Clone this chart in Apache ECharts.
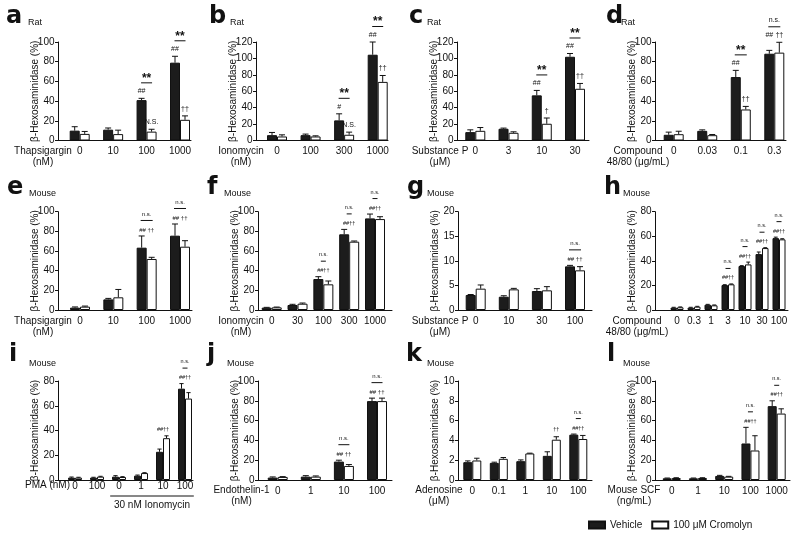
<!DOCTYPE html>
<html><head><meta charset="utf-8">
<script src="https://cdn.jsdelivr.net/npm/echarts@6/dist/echarts.min.js"></script>
<style>html,body{margin:0;padding:0;background:#fff}#c{width:800px;height:538px}</style>
</head><body><div id="c"></div>
<script>
// ---------------- DATA ----------------
const aCats = ['0','10','100','1000'];
const aVeh = [10, 11, 41, 79];
const aVehErr = [4, 1.7, 1.8, 6.5];
const aCro = [6.7, 6.5, 9, 21];
const aCroErr = [2.5, 4, 2.4, 4];
const aTicks = [0,20,40,60,80,100];
const aNotes = [null, null, {veh:'##', cro:'N.S.', cmp:'**'}, {veh:'##', cro:'††', cmp:'**'}];

const bCats = ['0','100','300','1000'];
const bVeh = [6.5, 6.5, 24.5, 104.5];
const bVehErr = [3.3, 1.3, 8, 15.5];
const bCro = [4.9, 4.9, 7, 71.4];
const bCroErr = [2, 0.8, 3.2, 7.8];
const bTicks = [0,20,40,60,80,100,120];
const bNotes = [null, null, {veh:'#', cro:'N.S.', cmp:'**'}, {veh:'##', cro:'††', cmp:'**'}];

const cCats = ['0','3','10','30'];
const cVeh = [10.2, 14.3, 55, 102];
const cVehErr = [2.8, 0.8, 6, 4];
const cCro = [11.8, 9.4, 20.4, 63];
const cCroErr = [4, 1.2, 7, 6.5];
const cTicks = [0,20,40,60,80,100,120];
const cNotes = [null, null, {veh:'##', cro:'†', cmp:'**'}, {veh:'##', cro:'††', cmp:'**'}];

const dCats = ['0','0.03','0.1','0.3'];
const dVeh = [5.8, 9.8, 64.4, 88.1];
const dVehErr = [2.7, 1, 6.8, 3.4];
const dCro = [6.4, 5.4, 31.5, 89.2];
const dCroErr = [3, 0.7, 3.1, 10.5];
const dTicks = [0,20,40,60,80,100];
const dNotes = [null, null, {veh:'##', cro:'††', cmp:'**'}, {veh:'##', cro:'††', same:true, cmp:'n.s.'}];

const eCats = ['0','10','100','1000'];
const eVeh = [2.4, 10.8, 63.4, 75.6];
const eVehErr = [0.7, 1, 11.9, 11.9];
const eCro = [3.4, 12.9, 51.9, 64.4];
const eCroErr = [0.6, 8, 1.7, 6.1];
const eTicks = [0,20,40,60,80,100];
const eNotes = [null, null, {both:'## ††', cmp:'n.s.'}, {both:'## ††', cmp:'n.s.'}];

const fCats = ['0','30','100','300','1000'];
const fVeh = [2.4, 5.1, 31.5, 77, 93.2];
const fVehErr = [0.3, 0.7, 2.4, 5, 4.4];
const fCro = [2.7, 6.4, 26.1, 69.5, 92.5];
const fCroErr = [0.3, 0.7, 3.4, 0.7, 2.4];
const fTicks = [0,20,40,60,80,100];
const fNotes = [null, null, {both:'##††', cmp:'n.s.'}, {both:'##††', cmp:'n.s.'}, {both:'##††', cmp:'n.s.'}];

const gCats = ['0','10','30','100'];
const gVeh = [3.05, 2.7, 3.86, 8.88];
const gVehErr = [0.1, 0.2, 0.48, 0.2];
const gCro = [4.34, 4.2, 4.0, 8.07];
const gCroErr = [0.75, 0.2, 0.75, 0.75];
const gTicks = [0,5,10,15,20];
const gNotes = [null, null, null, {both:'## ††', cmp:'n.s.'}];

const hCats = ['0','0.3','1','3','10','30','100'];
const hVeh = [1.9, 1.9, 4.3, 20.3, 35.8, 45.5, 58.5];
const hVehErr = [0.3, 0.3, 0.3, 0.3, 0.3, 1.7, 0.8];
const hCro = [2.2, 2.7, 3.8, 20.9, 37.1, 50.4, 57.5];
const hCroErr = [0.3, 0.3, 0.3, 0.3, 1.9, 0.3, 0.5];
const hTicks = [0,20,40,60,80];
const hNotes = [null, null, null, {both:'##††', cmp:'n.s.'}, {both:'##††', cmp:'n.s.'}, {both:'##††', cmp:'n.s.'}, {both:'##††', cmp:'n.s.'}];

const iCats = ['0','100','0','1','10','100'];
const iVeh = [1.9, 1.9, 2.7, 3.5, 22.8, 73.8];
const iVehErr = [0.5, 0.3, 0.8, 0.5, 2.2, 4.1];
const iCro = [1.9, 2.7, 2.4, 5.6, 33.8, 65.8];
const iCroErr = [0.3, 0.3, 0.3, 0.3, 1.9, 4.8];
const iTicks = [0,20,40,60,80];
const iNotes = [null, null, null, null, {both:'##††'}, {both:'##††', cmp:'n.s.'}];
const iGroupLabel = '30 nM Ionomycin';

const jCats = ['0','1','10','100'];
const jVeh = [2.4, 3.4, 18.6, 79.7];
const jVehErr = [0.7, 1, 1.4, 3];
const jCro = [3.1, 3.4, 14.2, 79.7];
const jCroErr = [0.3, 0.7, 1.4, 3];
const jTicks = [0,20,40,60,80,100];
const jNotes = [null, null, {both:'## ††', cmp:'n.s.'}, {both:'## ††', cmp:'n.s.'}];

const kCats = ['0','0.1','1','10','100'];
const kVeh = [1.8, 1.73, 1.9, 2.44, 4.58];
const kVehErr = [0.13, 0.07, 0.13, 0.41, 0.06];
const kCro = [1.97, 2.14, 2.68, 4.07, 4.14];
const kCroErr = [0.23, 0.13, 0.03, 0.3, 0.36];
const kTicks = [0,2,4,6,8,10];
const kNotes = [null, null, null, {cro:'††'}, {both:'##††', cmp:'n.s.'}];

const lCats = ['0','1','10','100','1000'];
const lVeh = [1.7, 1.7, 4.1, 36.9, 74.6];
const lVehErr = [0.3, 0.3, 0.6, 16.3, 5.4];
const lCro = [2, 2, 3.4, 29.8, 67.1];
const lCroErr = [0.3, 0.3, 0.3, 14.9, 4.8];
const lTicks = [0,20,40,60,80,100];
const lNotes = [null, null, null, {both:'##††', cmp:'n.s.'}, {both:'##††', cmp:'n.s.'}];

const yTitle = 'β-Hexosaminidase (%)';
const seriesNames = ['Vehicle', '100 μM Cromolyn'];

const panels = [
  {id:'a', sp:'Rat', xName:'Thapsigargin\n(nM)', cats:aCats, veh:aVeh, vehErr:aVehErr, cro:aCro, croErr:aCroErr, ticks:aTicks, notes:aNotes},
  {id:'b', sp:'Rat', xName:'Ionomycin\n(nM)', cats:bCats, veh:bVeh, vehErr:bVehErr, cro:bCro, croErr:bCroErr, ticks:bTicks, notes:bNotes},
  {id:'c', sp:'Rat', xName:'Substance P\n(μM)', cats:cCats, veh:cVeh, vehErr:cVehErr, cro:cCro, croErr:cCroErr, ticks:cTicks, notes:cNotes},
  {id:'d', sp:'Rat', xName:'Compound\n48/80 (μg/mL)', cats:dCats, veh:dVeh, vehErr:dVehErr, cro:dCro, croErr:dCroErr, ticks:dTicks, notes:dNotes},
  {id:'e', sp:'Mouse', xName:'Thapsigargin\n(nM)', cats:eCats, veh:eVeh, vehErr:eVehErr, cro:eCro, croErr:eCroErr, ticks:eTicks, notes:eNotes},
  {id:'f', sp:'Mouse', xName:'Ionomycin\n(nM)', cats:fCats, veh:fVeh, vehErr:fVehErr, cro:fCro, croErr:fCroErr, ticks:fTicks, notes:fNotes},
  {id:'g', sp:'Mouse', xName:'Substance P\n(μM)', cats:gCats, veh:gVeh, vehErr:gVehErr, cro:gCro, croErr:gCroErr, ticks:gTicks, notes:gNotes},
  {id:'h', sp:'Mouse', xName:'Compound\n48/80 (μg/mL)', cats:hCats, veh:hVeh, vehErr:hVehErr, cro:hCro, croErr:hCroErr, ticks:hTicks, notes:hNotes},
  {id:'i', sp:'Mouse', xName:'PMA (nM)', cats:iCats, veh:iVeh, vehErr:iVehErr, cro:iCro, croErr:iCroErr, ticks:iTicks, notes:iNotes},
  {id:'j', sp:'Mouse', xName:'Endothelin-1\n(nM)', cats:jCats, veh:jVeh, vehErr:jVehErr, cro:jCro, croErr:jCroErr, ticks:jTicks, notes:jNotes},
  {id:'k', sp:'Mouse', xName:'Adenosine\n(μM)', cats:kCats, veh:kVeh, vehErr:kVehErr, cro:kCro, croErr:kCroErr, ticks:kTicks, notes:kNotes},
  {id:'l', sp:'Mouse', xName:'Mouse SCF\n(ng/mL)', cats:lCats, veh:lVeh, vehErr:lVehErr, cro:lCro, croErr:lCroErr, ticks:lTicks, notes:lNotes}
];

// ---------------- LAYOUT ----------------
const rows = [
  {top:42, zero:140.5, letterY:17, spY:22.7, nameTop:146.2},
  {top:211.7, zero:310, letterY:187.5, spY:193.3, nameTop:316.2},
  {top:381, zero:480, letterY:354.5, spY:364, nameTop:485.2}
];
const layout = {
  a:{row:0, axisX:58, axisEnd:191, c0:79.7, c1:180, bw:10, lw:11, ns:7, nameX:43, letterX:6, spX:28},
  b:{row:0, axisX:256, axisEnd:388, c0:277, c1:377.7, bw:10, lw:11, ns:7, nameX:241, letterX:209, spX:230},
  c:{row:0, axisX:457, axisEnd:589, c0:475.3, c1:575, bw:10, lw:11, ns:7, nameX:440, letterX:409, spX:427},
  d:{row:0, axisX:655, axisEnd:786, c0:673.7, c1:774.3, bw:10, lw:12, ns:7, nameX:638, letterX:606, spX:621},
  e:{row:1, axisX:58, axisEnd:192, c0:80, c1:180, bw:10, lw:12, ns:6, nameX:43, letterX:7, spX:29},
  f:{row:1, axisX:258, axisEnd:392, c0:271.7, c1:375, bw:10, lw:5, ns:5.5, nameX:241, letterX:207, spX:224},
  g:{row:1, axisX:458, axisEnd:592, c0:475.7, c1:575, bw:10, lw:12, ns:6, nameX:440, letterX:407, spX:427},
  h:{row:1, axisX:655, axisEnd:788, c0:677, c1:779, bw:6.5, lw:5, ns:5.5, nameX:637, letterX:604, spX:623},
  i:{row:2, axisX:58, axisEnd:193, c0:75, c1:185, bw:7, lw:5, ns:5.5, nameX:47.5, letterX:9, spX:29, labelMargin:1.5, nameTop:479.5},
  j:{row:2, axisX:258, axisEnd:392, c0:277.7, c1:377, bw:10, lw:11, ns:6, nameX:241.5, letterX:207, spX:227},
  k:{row:2, axisX:458, axisEnd:592, c0:472.3, c1:578.3, bw:9, lw:5, ns:5.5, nameX:439, letterX:406, spX:427},
  l:{row:2, axisX:655, axisEnd:790, c0:671.7, c1:776.7, bw:9, lw:5, ns:5.5, nameX:634, letterX:607, spX:623}
};

const FONT = '"Liberation Sans", Arial, Helvetica, sans-serif';
const NUMFONT = '"Liberation Sans Narrow", "Arial Narrow", "Liberation Sans", Arial, sans-serif';
const INK = '#111';
const axisLineStyle = {color:'#111', width:1};

function gtext(x, y, text, size, extra) {
  return {type:'text', x:x, y:y, silent:true, z:10,
    style:Object.assign({text:text, fill:INK, fontSize:size, fontFamily:FONT,
      align:'left', verticalAlign:'middle', textAlign:'left', textVerticalAlign:'middle'}, extra || {})};
}
function ctext(x, y, text, size, weight) {
  return {type:'text', silent:true,
    style:{text:text, x:x, y:y, fill:INK, fontSize:size, fontFamily:FONT, fontWeight:weight || 'normal',
      align:'center', verticalAlign:'middle', textAlign:'center', textVerticalAlign:'middle'}};
}
function cline(x1, y1, x2, y2) {
  return {type:'line', silent:true, shape:{x1:x1, y1:y1, x2:x2, y2:y2}, style:{stroke:'#111', lineWidth:1}};
}

function makeRender(p, L) {
  return function(params, api) {
    const i = api.value(0);
    const cx = api.coord([i, 0])[0];
    const bw = L.bw, cap = Math.max(3, bw * 0.6);
    const xB = cx - bw / 2, xW = cx + bw / 2;
    const yBt = api.coord([i, p.veh[i]])[1], yBc = api.coord([i, p.veh[i] + p.vehErr[i]])[1];
    const yWt = api.coord([i, p.cro[i]])[1], yWc = api.coord([i, p.cro[i] + p.croErr[i]])[1];
    const ch = [];
    ch.push(cline(xB, yBt, xB, yBc), cline(xB - cap / 2, yBc, xB + cap / 2, yBc));
    ch.push(cline(xW, yWt, xW, yWc), cline(xW - cap / 2, yWc, xW + cap / 2, yWc));
    const note = p.notes[i];
    if (note) {
      let top;
      if (note.both) {
        top = Math.min(yBc, yWc) - 6;
        ch.push(ctext(cx, top, note.both, L.ns));
      } else if (note.same) {
        top = Math.min(yBc, yWc) - 7;
        ch.push(ctext(xB, top, note.veh, L.ns), ctext(xW, top, note.cro, L.ns));
      } else {
        const tops = [];
        if (note.veh) { const y = yBc - 7; ch.push(ctext(xB, y, note.veh, L.ns)); tops.push(y); } else tops.push(yBc);
        if (note.cro) { const y = yWc - 7; ch.push(ctext(xW, y, note.cro, L.ns)); tops.push(y); } else tops.push(yWc);
        top = Math.min.apply(null, tops);
      }
      if (note.cmp) {
        const ly = top - (note.both ? 9.5 : 8.5);
        ch.push(cline(cx - L.lw / 2, ly, cx + L.lw / 2, ly));
        if (note.cmp === '**') ch.push(ctext(cx, ly - 4.4, '**', 12, 'bold'));
        else ch.push(ctext(cx, ly - 6.5, note.cmp, L.ns));
      }
    }
    return {type:'group', children:ch};
  };
}

const grid = [], xAxis = [], yAxis = [], series = [], graphic = [];
panels.forEach(function(p) {
  const L = layout[p.id], R = rows[L.row];
  const n = p.cats.length;
  const cw = (L.c1 - L.c0) / (n - 1);
  const left = L.c0 - cw / 2, width = cw * n;
  const height = R.zero - R.top;
  const ymin = p.ticks[0], ymax = p.ticks[p.ticks.length - 1], step = p.ticks[1] - p.ticks[0];

  // axis frame grid
  const gA = grid.length;
  grid.push({left:L.axisX, top:R.top, width:L.axisEnd - L.axisX, height:height});
  xAxis.push({gridIndex:gA, type:'value', min:0, max:1, axisLine:{show:true, lineStyle:axisLineStyle},
    axisTick:{show:false}, axisLabel:{show:false}, splitLine:{show:false}});
  yAxis.push({gridIndex:gA, type:'value', min:ymin, max:ymax, interval:step,
    name:yTitle, nameLocation:'middle', nameGap:17.5, nameRotate:90, nameMoveOverlap:false,
    nameTextStyle:{fontSize:10, color:INK, fontFamily:FONT},
    axisLine:{show:true, lineStyle:axisLineStyle},
    axisTick:{show:true, length:3, lineStyle:axisLineStyle},
    axisLabel:{fontSize:10, margin:3.5, color:INK, fontFamily:NUMFONT},
    splitLine:{show:false}});

  // plot grid
  const gP = grid.length;
  grid.push({left:left, top:R.top, width:width, height:height});
  const xi = xAxis.length;
  xAxis.push({gridIndex:gP, type:'category', data:p.cats, axisLine:{show:false}, axisTick:{show:false},
    axisLabel:{fontSize:10, margin:(L.labelMargin != null ? L.labelMargin : 6), color:INK, fontFamily:NUMFONT, interval:0},
    splitLine:{show:false}});
  const yi = yAxis.length;
  yAxis.push({gridIndex:gP, type:'value', min:ymin, max:ymax, interval:step, show:false, splitLine:{show:false}});

  series.push({type:'bar', name:seriesNames[0], xAxisIndex:xi, yAxisIndex:yi, data:p.veh, barWidth:L.bw, barGap:'0%',
    itemStyle:{color:'#1c1c1c', borderColor:'#111', borderWidth:1}, silent:true});
  series.push({type:'bar', name:seriesNames[1], xAxisIndex:xi, yAxisIndex:yi, data:p.cro, barWidth:L.bw, barGap:'0%',
    itemStyle:{color:'#ffffff', borderColor:'#111', borderWidth:1}, silent:true});
  series.push({type:'custom', xAxisIndex:xi, yAxisIndex:yi, clip:false, z:5, silent:true,
    data:p.cats.map(function(c, k) { return [k]; }), renderItem:makeRender(p, L)});

  // panel letter, species, x-axis title
  graphic.push(gtext(L.letterX, R.letterY, p.id, 24, {fontWeight:'bold', fontFamily:'"DejaVu Sans", Arial, sans-serif'}));
  graphic.push(gtext(L.spX, R.spY, p.sp, 9));
  graphic.push(gtext(L.nameX, (L.nameTop != null ? L.nameTop : R.nameTop), p.xName, 10,
    {align:'center', textAlign:'center', verticalAlign:'top', textVerticalAlign:'top', lineHeight:11}));

  if (p.id === 'i') {
    const x1 = L.c0 + 2 * cw - 0.4 * cw, x2 = L.c1 + 0.4 * cw;
    graphic.push({type:'line', silent:true, shape:{x1:x1, y1:496, x2:x2, y2:496}, style:{stroke:'#111', lineWidth:1}});
    graphic.push(gtext((x1 + x2) / 2, 505, iGroupLabel, 10, {align:'center', textAlign:'center'}));
  }
});

const chart = echarts.init(document.getElementById('c'), null, {renderer:'canvas'});
chart.setOption({
  animation:false,
  backgroundColor:'#ffffff',
  textStyle:{fontFamily:FONT},
  grid:grid, xAxis:xAxis, yAxis:yAxis, series:series, graphic:graphic,
  legend:{data:seriesNames, left:588, top:520, padding:0, itemWidth:16, itemHeight:7, itemGap:9, icon:'rect',
    selectedMode:false, textStyle:{fontSize:10, color:INK, fontFamily:FONT}}
});
</script>
</body></html>
